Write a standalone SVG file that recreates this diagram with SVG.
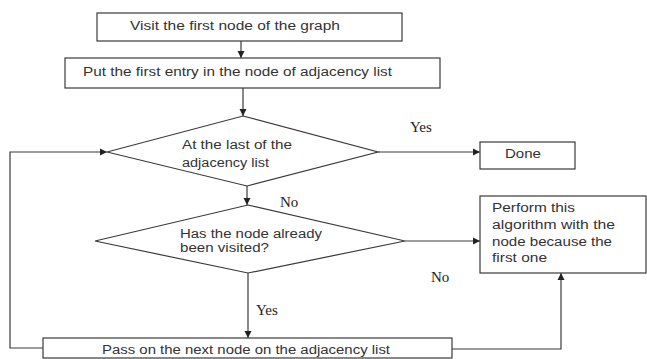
<svg xmlns="http://www.w3.org/2000/svg" width="647" height="359" viewBox="0 0 647 359">
<style>
.s{fill:#fff;stroke:#3a3a3a;stroke-width:1.2}
.t{font-family:"Liberation Sans",Arial,sans-serif;font-size:12.5px;fill:#333}
.l{font-family:"Liberation Serif","Times New Roman",serif;font-size:15px;fill:#222}
.c{fill:none;stroke:#3a3a3a;stroke-width:1.2}
</style>
<defs>
<marker id="a" markerWidth="8" markerHeight="8" refX="7" refY="4" orient="auto" markerUnits="userSpaceOnUse">
<path d="M0,0.5 L7,4 L0,7.5 Z" fill="#222"/>
</marker>
</defs>
<rect width="647" height="359" fill="#fff"/>
<g id="connectors">
<line class="c" x1="241" y1="41" x2="241" y2="58" marker-end="url(#a)"/>
<line class="c" x1="243" y1="88" x2="243" y2="116" marker-end="url(#a)"/>
<line class="c" x1="378" y1="152" x2="480" y2="152" marker-end="url(#a)"/>
<line class="c" x1="247" y1="186" x2="247" y2="205" marker-end="url(#a)"/>
<line class="c" x1="405" y1="241" x2="480" y2="241" marker-end="url(#a)"/>
<line class="c" x1="248" y1="273" x2="248" y2="338" marker-end="url(#a)"/>
<polyline class="c" points="452,349 561,349 561,273" marker-end="url(#a)"/>
<polyline class="c" points="43,348 10,348 10,152 107,152" marker-end="url(#a)"/>
<text class="l" x="410" y="132">Yes</text>
<text class="l" x="280" y="207">No</text>
<text class="l" x="256" y="315">Yes</text>
<text class="l" x="431" y="282">No</text>
</g>
<g id="n1">
<rect class="s" x="97" y="13" width="305" height="28"/>
<text class="t" x="130" y="29.5" textLength="210" lengthAdjust="spacingAndGlyphs">Visit the first node of the graph</text>
</g>
<g id="n2">
<rect class="s" x="65" y="58" width="375" height="30"/>
<text class="t" x="83" y="75.5" textLength="309" lengthAdjust="spacingAndGlyphs">Put the first entry in the node of adjacency list</text>
</g>
<g id="n3">
<polygon class="s" points="243,116 378,152 247,186 107,152"/>
<text class="t" x="182" y="148.5" textLength="110" lengthAdjust="spacingAndGlyphs">At the last of the</text>
<text class="t" x="182" y="166.5" textLength="87" lengthAdjust="spacingAndGlyphs">adjacency list</text>
</g>
<g id="n4">
<rect class="s" x="480" y="142" width="95" height="27"/>
<text class="t" x="505" y="157.5" textLength="36" lengthAdjust="spacingAndGlyphs">Done</text>
</g>
<g id="n5">
<polygon class="s" points="248,205 405,241 248,273 95,241"/>
<text class="t" x="180" y="237.5" textLength="142" lengthAdjust="spacingAndGlyphs">Has the node already</text>
<text class="t" x="180" y="251.5" textLength="89" lengthAdjust="spacingAndGlyphs">been visited?</text>
</g>
<g id="n6">
<rect class="s" x="480" y="196" width="166" height="77"/>
<text class="t" x="492" y="211.5" textLength="83" lengthAdjust="spacingAndGlyphs">Perform this</text>
<text class="t" x="492" y="228.5" textLength="123" lengthAdjust="spacingAndGlyphs">algorithm with the</text>
<text class="t" x="492" y="245.5" textLength="120" lengthAdjust="spacingAndGlyphs">node because the</text>
<text class="t" x="492" y="261.5" textLength="55" lengthAdjust="spacingAndGlyphs">first one</text>
</g>
<g id="n7">
<rect class="s" x="43" y="338" width="409" height="20"/>
<text class="t" x="102" y="354" textLength="288" lengthAdjust="spacingAndGlyphs">Pass on the next node on the adjacency list</text>
</g>
</svg>
